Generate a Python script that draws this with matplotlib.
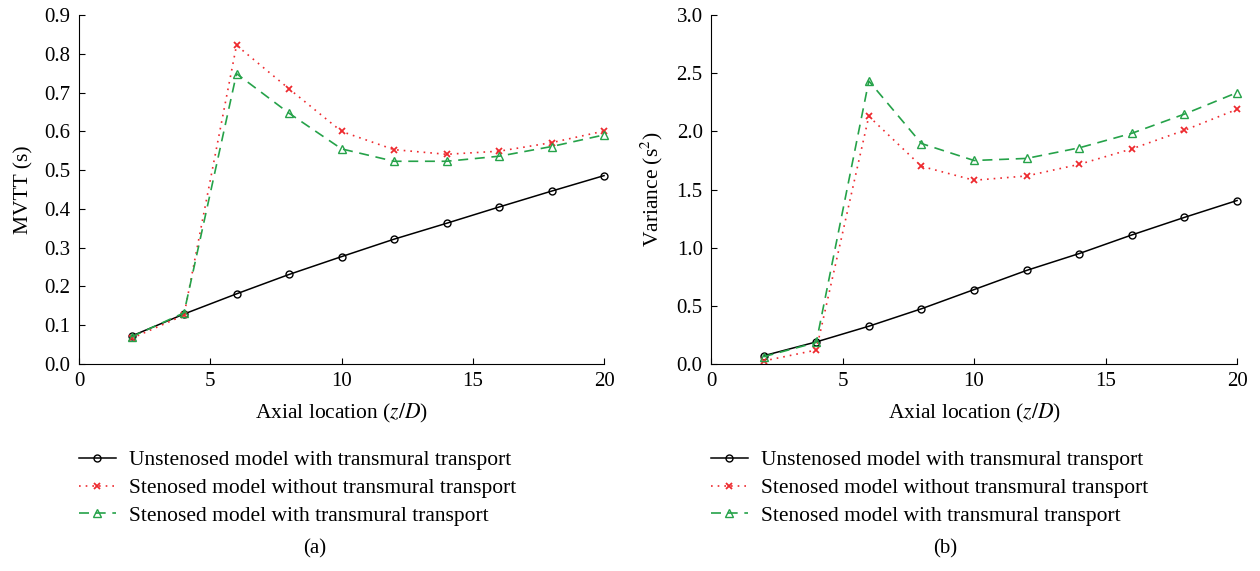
import matplotlib
matplotlib.use("Agg")
import matplotlib.pyplot as plt
from matplotlib.lines import Line2D

plt.rcParams['font.family'] = ['Liberation Serif', 'DejaVu Serif']
plt.rcParams['mathtext.fontset'] = 'stix'

# Axial positions (z/D)
axial = [2, 4, 6, 8, 10, 12, 14, 16, 18, 20]

# Mean venous transit time (s)
mvtt_unstenosed = [0.072, 0.129, 0.181, 0.231, 0.277, 0.322, 0.363, 0.405, 0.446, 0.486]
mvtt_sten_without = [0.066, 0.126, 0.822, 0.710, 0.600, 0.553, 0.541, 0.549, 0.571, 0.601]
mvtt_sten_with = [0.070, 0.132, 0.749, 0.647, 0.555, 0.523, 0.523, 0.536, 0.561, 0.591]

# Variance (s^2)
var_unstenosed = [0.071, 0.190, 0.325, 0.475, 0.640, 0.805, 0.950, 1.110, 1.261, 1.406]
var_sten_without = [0.026, 0.120, 2.130, 1.700, 1.580, 1.617, 1.717, 1.850, 2.010, 2.190]
var_sten_with = [0.063, 0.185, 2.434, 1.896, 1.750, 1.768, 1.859, 1.984, 2.149, 2.334]

series_labels = ["Unstenosed model with transmural transport",
                 "Stenosed model without transmural transport",
                 "Stenosed model with transmural transport"]

RED = '#ee2a2f'
GREEN = '#25a249'

styles = [
    dict(color='black', linestyle='-', linewidth=1.1, marker='o', markersize=5,
         markerfacecolor='none', markeredgewidth=1.0),
    dict(color=RED, linestyle=(0, (1, 3)), linewidth=1.2, marker='x', markersize=5,
         markeredgewidth=1.3),
    dict(color=GREEN, linestyle=(0, (6, 4)), linewidth=1.2, marker='^', markersize=5.5,
         markerfacecolor='none', markeredgewidth=1.0),
]

fig = plt.figure(figsize=(12.6, 5.71), dpi=100)
ax_a = fig.add_axes([0.0627, 0.3625, 0.4167, 0.611])
ax_b = fig.add_axes([0.5643, 0.3625, 0.4175, 0.611])

panels = [
    (ax_a, [mvtt_unstenosed, mvtt_sten_without, mvtt_sten_with], 'MVTT (s)',
     (0, 0.9), [0.0, 0.1, 0.2, 0.3, 0.4, 0.5, 0.6, 0.7, 0.8, 0.9], '(a)', 0.25),
    (ax_b, [var_unstenosed, var_sten_without, var_sten_with], 'Variance (s$^2$)',
     (0, 3.0), [0.0, 0.5, 1.0, 1.5, 2.0, 2.5, 3.0], '(b)', 0.75),
]

for ax, data, ylabel, ylim, yticks, tag, cx in panels:
    for vals, st, lab in zip(data, styles, series_labels):
        ax.plot(axial, vals, label=lab, clip_on=False, **st)
    ax.set_xlim(0, 20)
    ax.set_ylim(*ylim)
    ax.set_xticks([0, 5, 10, 15, 20])
    ax.set_yticks(yticks)
    ax.set_yticklabels([f"{t:.1f}" for t in yticks])
    for s in ('top', 'right'):
        ax.spines[s].set_visible(False)
    ax.tick_params(direction='in', length=4, width=0.8, labelsize=15, pad=6)
    ax.set_ylabel(ylabel, fontsize=15.5, labelpad=8)
    ax.set_xlabel('Axial location ($z/D$)', fontsize=15.5, labelpad=8)

    handles = [Line2D([0], [0], **st) for st in styles]
    ax.legend(handles, series_labels, loc='upper left',
              bbox_to_anchor=(0.0, -0.247), frameon=False, fontsize=15.5,
              handlelength=1.7, handletextpad=0.6, labelspacing=0.36,
              borderaxespad=0.0, borderpad=0.0)
    fig.text(cx, 0.039, tag, ha='center', va='center', fontsize=15)

fig.savefig('out.png', dpi=100)
